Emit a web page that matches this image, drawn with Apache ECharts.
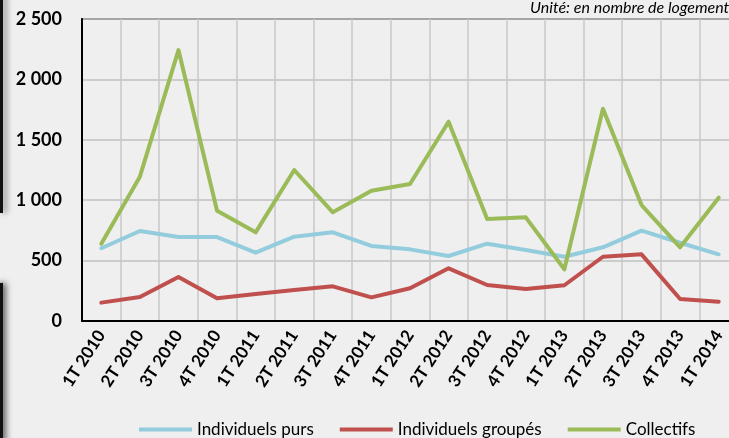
<!DOCTYPE html>
<html>
<head>
<meta charset="utf-8">
<script src="https://cdn.jsdelivr.net/npm/echarts@6/dist/echarts.min.js"></script>
<style>
html,body{margin:0;padding:0;background:#efefef;}
#chart{width:729px;height:438px;}
</style>
</head>
<body>
<div id="chart"></div>
<script>
const categories = ['1T 2010','2T 2010','3T 2010','4T 2010','1T 2011','2T 2011','3T 2011','4T 2011','1T 2012','2T 2012','3T 2012','4T 2012','1T 2013','2T 2013','3T 2013','4T 2013','1T 2014'];
const individuelsPurs = [602, 745, 695, 695, 566, 698, 734, 621, 593, 538, 640, 588, 532, 610, 748, 648, 552];
const individuelsGroupes = [152, 199, 364, 188, 224, 257, 287, 196, 271, 436, 298, 265, 296, 532, 552, 182, 160];
const collectifs = [640, 1195, 2243, 913, 734, 1250, 900, 1079, 1134, 1650, 844, 858, 428, 1757, 960, 610, 1021];
const yTicks = {min: 0, max: 2500, interval: 500};
const unitText = 'Unité: en nombre de logements';

const chart = echarts.init(document.getElementById('chart'));
const fontFam = 'Lato, "Liberation Sans", Arial, sans-serif';
function fmt(v){ return String(v).replace(/\B(?=(\d{3})+(?!\d))/g, ' '); }
function mk(name, data, color){
  return {name, type:'line', data, symbol:'none', smooth:false,
    lineStyle:{color, width:4, cap:'round', join:'round'}, itemStyle:{color}, z:3};
}
chart.setOption({
  backgroundColor:'#efefef',
  animation:false,
  grid:{left:82, top:19, width:656, height:302, outerBoundsMode:'none', containLabel:false,
    show:true, borderColor:'#555', borderWidth:2, backgroundColor:'transparent'},
  xAxis:{type:'category', data:categories, boundaryGap:true,
    axisLine:{show:true, lineStyle:{color:'#000', width:2}},
    axisTick:{show:false},
    splitLine:{show:true, lineStyle:{color:'#c8c8c8', width:1.5}},
    axisLabel:{interval:0, rotate:57, margin:11, color:'#000', fontWeight:'bold', fontSize:17, fontFamily:fontFam}
  },
  yAxis:{type:'value', min:yTicks.min, max:yTicks.max, interval:yTicks.interval,
    axisLine:{show:true, lineStyle:{color:'#000', width:2}},
    axisTick:{show:false},
    splitLine:{show:true, lineStyle:{color:'#c0c0c0', width:1.5}},
    axisLabel:{formatter:fmt, margin:20, color:'#000', fontWeight:'bold', fontSize:18, fontFamily:fontFam}
  },
  legend:{left:134, top:416, itemWidth:53, itemHeight:4, itemGap:26, padding:5,
    icon:'rect',
    textStyle:{fontSize:17, color:'#000', fontFamily:fontFam},
    data:['Individuels purs','Individuels groupés','Collectifs']},
  graphic:[
    {type:'text', left:530, top:0, style:{text:unitText, fill:'#000', font:'italic 16px Lato, "Liberation Sans", Arial, sans-serif'}},
    {type:'rect', shape:{x:0, y:-5, width:3, height:218}, style:{fill:'#111', shadowBlur:6, shadowColor:'rgba(0,0,0,0.6)', shadowOffsetX:3}},
    {type:'rect', shape:{x:-5, y:283, width:8, height:160}, style:{fill:'#111', shadowBlur:6, shadowColor:'rgba(0,0,0,0.6)', shadowOffsetX:3}}
  ],
  series:[
    mk('Individuels purs', individuelsPurs, '#93cddd'),
    mk('Individuels groupés', individuelsGroupes, '#c0504d'),
    mk('Collectifs', collectifs, '#9bbb59')
  ]
});
</script>
</body>
</html>
